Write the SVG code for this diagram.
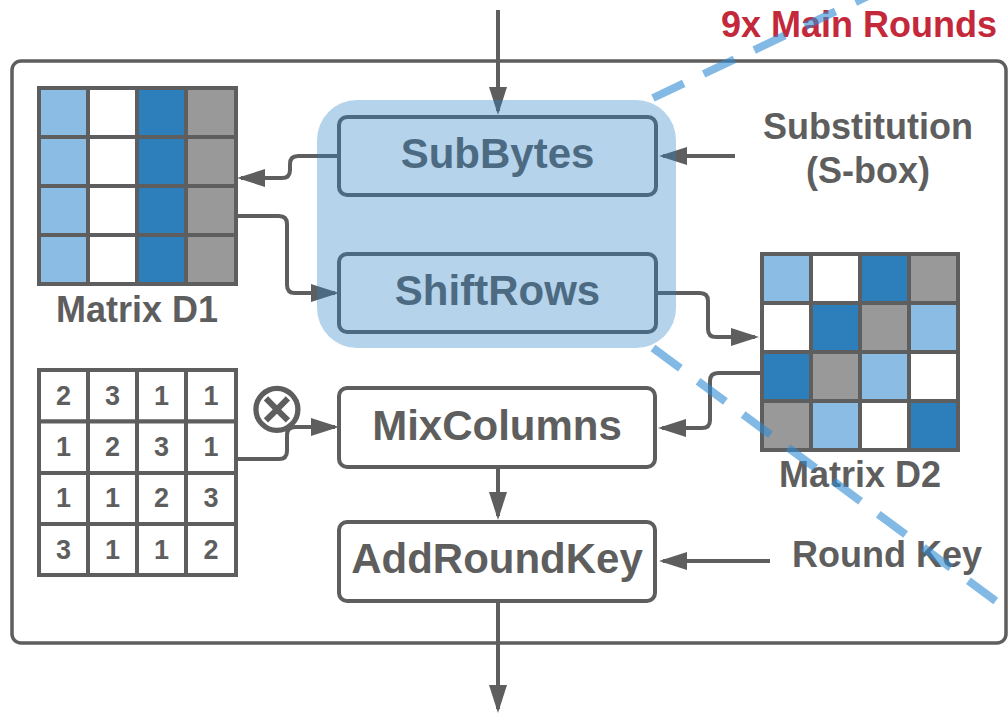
<svg xmlns="http://www.w3.org/2000/svg" width="1008" height="715" viewBox="0 0 1008 715">
  <defs>
    <marker id="arrow" viewBox="0 0 28 18" refX="24" refY="9" markerWidth="28" markerHeight="18" orient="auto" markerUnits="userSpaceOnUse">
      <path d="M0,0 L28,9 L0,18 z" fill="#5e5e5e"/>
    </marker>
    <style>
      .frame { fill: none; stroke: #5e5e5e; stroke-width: 3.5; }
      .box { fill: #ffffff; stroke: #5e5e5e; stroke-width: 4; }
      .cell { stroke: #5e5e5e; stroke-width: 4; }
      .lb { fill: #8bbce4; }
      .db { fill: #2c7fbb; }
      .gr { fill: #999999; }
      .wh { fill: #ffffff; }
      .conn { fill: none; stroke: #5e5e5e; stroke-width: 4; marker-end: url(#arrow); }
      .t42 { font-family: "Liberation Sans", Arial, sans-serif; font-weight: bold; font-size: 42px; fill: #5e5e5e; text-anchor: middle; }
      .t36 { font-family: "Liberation Sans", Arial, sans-serif; font-weight: bold; font-size: 36px; fill: #5e5e5e; text-anchor: middle; }
      .num { font-family: "Liberation Sans", Arial, sans-serif; font-weight: bold; font-size: 27px; fill: #5e5e5e; text-anchor: middle; }
      .title { font-family: "Liberation Sans", Arial, sans-serif; font-weight: bold; font-size: 36px; fill: #c4283b; text-anchor: middle; }
      .dash { fill: none; stroke: #2f8ad3; stroke-opacity: 0.6; stroke-width: 8; stroke-dasharray: 34 22; }
    </style>
  </defs>

  <!-- round frame -->
  <g id="round-frame">
    <rect class="frame" x="12" y="61" width="994" height="582" rx="9"/>
    <text class="title" x="859" y="37">9x Main Rounds</text>
  </g>

  <!-- state matrix before shifting -->
  <g id="matrix-d1">
    <rect class="cell lb" x="39" y="88" width="49" height="49"/>
    <rect class="cell wh" x="88" y="88" width="49" height="49"/>
    <rect class="cell db" x="137" y="88" width="49" height="49"/>
    <rect class="cell gr" x="186" y="88" width="50" height="49"/>
    <rect class="cell lb" x="39" y="137" width="49" height="49"/>
    <rect class="cell wh" x="88" y="137" width="49" height="49"/>
    <rect class="cell db" x="137" y="137" width="49" height="49"/>
    <rect class="cell gr" x="186" y="137" width="50" height="49"/>
    <rect class="cell lb" x="39" y="186" width="49" height="49"/>
    <rect class="cell wh" x="88" y="186" width="49" height="49"/>
    <rect class="cell db" x="137" y="186" width="49" height="49"/>
    <rect class="cell gr" x="186" y="186" width="50" height="49"/>
    <rect class="cell lb" x="39" y="235" width="49" height="49"/>
    <rect class="cell wh" x="88" y="235" width="49" height="49"/>
    <rect class="cell db" x="137" y="235" width="49" height="49"/>
    <rect class="cell gr" x="186" y="235" width="50" height="49"/>
    <text class="t36" x="137" y="322">Matrix D1</text>
  </g>

  <!-- state matrix after shifting -->
  <g id="matrix-d2">
    <rect class="cell lb" x="762" y="254" width="49" height="49"/>
    <rect class="cell wh" x="811" y="254" width="49" height="49"/>
    <rect class="cell db" x="860" y="254" width="49" height="49"/>
    <rect class="cell gr" x="909" y="254" width="49" height="49"/>
    <rect class="cell wh" x="762" y="303" width="49" height="49"/>
    <rect class="cell db" x="811" y="303" width="49" height="49"/>
    <rect class="cell gr" x="860" y="303" width="49" height="49"/>
    <rect class="cell lb" x="909" y="303" width="49" height="49"/>
    <rect class="cell db" x="762" y="352" width="49" height="49"/>
    <rect class="cell gr" x="811" y="352" width="49" height="49"/>
    <rect class="cell lb" x="860" y="352" width="49" height="49"/>
    <rect class="cell wh" x="909" y="352" width="49" height="49"/>
    <rect class="cell gr" x="762" y="401" width="49" height="49"/>
    <rect class="cell lb" x="811" y="401" width="49" height="49"/>
    <rect class="cell wh" x="860" y="401" width="49" height="49"/>
    <rect class="cell db" x="909" y="401" width="49" height="49"/>
    <text class="t36" x="860" y="487">Matrix D2</text>
  </g>

  <!-- MixColumns coefficient matrix -->
  <g id="mix-matrix">
    <rect class="cell wh" x="39" y="370" width="49" height="51.5"/>
    <rect class="cell wh" x="88" y="370" width="49" height="51.5"/>
    <rect class="cell wh" x="137" y="370" width="49" height="51.5"/>
    <rect class="cell wh" x="186" y="370" width="50" height="51.5"/>
    <rect class="cell wh" x="39" y="421.5" width="49" height="51.5"/>
    <rect class="cell wh" x="88" y="421.5" width="49" height="51.5"/>
    <rect class="cell wh" x="137" y="421.5" width="49" height="51.5"/>
    <rect class="cell wh" x="186" y="421.5" width="50" height="51.5"/>
    <rect class="cell wh" x="39" y="473" width="49" height="51"/>
    <rect class="cell wh" x="88" y="473" width="49" height="51"/>
    <rect class="cell wh" x="137" y="473" width="49" height="51"/>
    <rect class="cell wh" x="186" y="473" width="50" height="51"/>
    <rect class="cell wh" x="39" y="524" width="49" height="51"/>
    <rect class="cell wh" x="88" y="524" width="49" height="51"/>
    <rect class="cell wh" x="137" y="524" width="49" height="51"/>
    <rect class="cell wh" x="186" y="524" width="50" height="51"/>
    <text class="num" x="63.5" y="405">2</text>
    <text class="num" x="112.5" y="405">3</text>
    <text class="num" x="161.5" y="405">1</text>
    <text class="num" x="211" y="405">1</text>
    <text class="num" x="63.5" y="456">1</text>
    <text class="num" x="112.5" y="456">2</text>
    <text class="num" x="161.5" y="456">3</text>
    <text class="num" x="211" y="456">1</text>
    <text class="num" x="63.5" y="507">1</text>
    <text class="num" x="112.5" y="507">1</text>
    <text class="num" x="161.5" y="507">2</text>
    <text class="num" x="211" y="507">3</text>
    <text class="num" x="63.5" y="559">3</text>
    <text class="num" x="112.5" y="559">1</text>
    <text class="num" x="161.5" y="559">1</text>
    <text class="num" x="211" y="559">2</text>
  </g>

  <g id="multiply">
    <text x="277" y="432" font-family="DejaVu Sans, sans-serif" font-size="72" fill="#5e5e5e" text-anchor="middle">⊗</text>
  </g>

  <!-- side inputs -->
  <g id="sbox-label">
    <text class="t36" x="868" y="139">Substitution</text>
    <text class="t36" x="868" y="183">(S-box)</text>
  </g>
  <g id="round-key-label">
    <text class="t36" x="887" y="567">Round Key</text>
  </g>

  <!-- connectors -->
  <g id="connectors">
    <path class="conn" d="M498,10 V111"/>
    <path class="conn" d="M339,156 H298 Q290,156 290,164 V170 Q290,178 282,178 H241"/>
    <path class="conn" d="M237,216 H279 Q287,216 287,224 V285 Q287,293 295,293 H335"/>
    <path class="conn" d="M735,156 H663"/>
    <path class="conn" d="M656,293 H700 Q708,293 708,301 V329 Q708,337 716,337 H755"/>
    <path class="conn" d="M760,373 H718 Q710,373 710,381 V420 Q710,428 702,428 H662"/>
    <path class="conn" d="M237,459 H279 Q287,459 287,451 V435 Q287,427 295,427 H335"/>
    <path class="conn" d="M498,467 V516"/>
    <path class="conn" d="M770,561 H663"/>
    <path class="conn" d="M498,601 V709"/>
  </g>

  <!-- round steps -->
  <g id="subbytes">
    <rect class="box" x="339" y="117" width="317" height="78" rx="8"/>
    <text class="t42" x="497.5" y="168">SubBytes</text>
  </g>
  <g id="shiftrows">
    <rect class="box" x="339" y="254" width="317" height="78" rx="8"/>
    <text class="t42" x="497.5" y="305">ShiftRows</text>
  </g>
  <g id="mixcolumns">
    <rect class="box" x="339" y="388" width="316" height="79" rx="8"/>
    <text class="t42" x="497" y="440">MixColumns</text>
  </g>
  <g id="addroundkey">
    <rect class="box" x="339" y="522" width="316" height="79" rx="8"/>
    <text class="t42" x="497" y="573">AddRoundKey</text>
  </g>

  <!-- highlighted byte-level stage -->
  <g id="byte-stage">
    <rect x="317" y="100" width="359" height="248" rx="40" fill="#2b80c5" fill-opacity="0.35"/>
  </g>

  <!-- zoom guide lines -->
  <g id="guides">
    <path class="dash" d="M653,98 L885,-12"/>
    <path class="dash" d="M653,348 L1008,610"/>
  </g>
</svg>
